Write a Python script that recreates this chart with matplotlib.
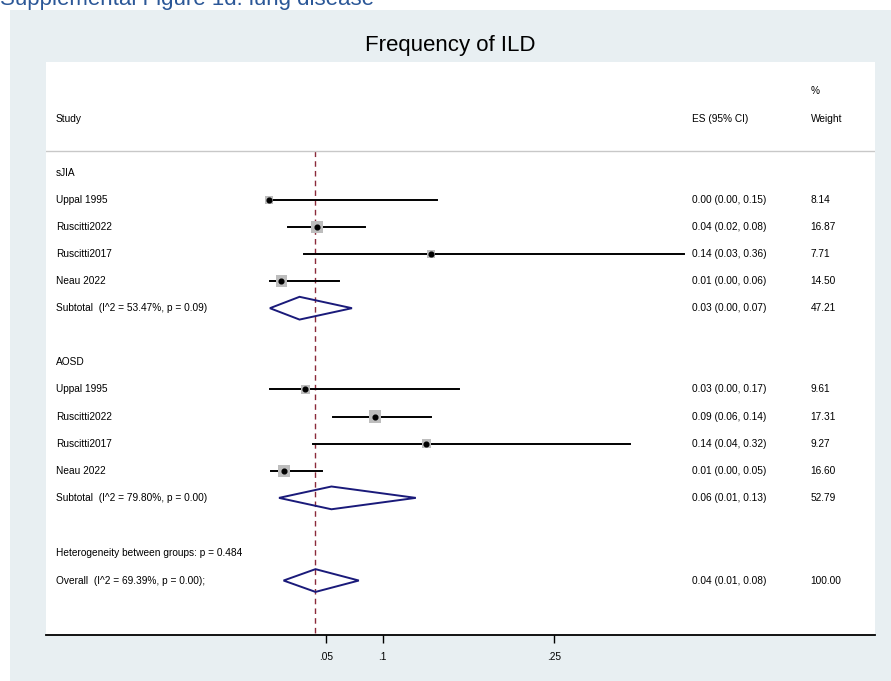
import matplotlib.pyplot as plt
from matplotlib.patches import Rectangle, Polygon

plt.rcParams['font.family'] = ['Liberation Sans', 'DejaVu Sans']

# study rows, values
sjia_names = ['Uppal 1995', 'Ruscitti2022', 'Ruscitti2017', 'Neau 2022']
sjia_es = [0.000, 0.042, 0.142, 0.011]
sjia_lo = [0.000, 0.017, 0.031, 0.001]
sjia_hi = [0.148, 0.084, 0.364, 0.062]
sjia_wt = [8.14, 16.87, 7.71, 14.50]
sjia_ci_txt = ['0.00 (0.00, 0.15)', '0.04 (0.02, 0.08)', '0.14 (0.03, 0.36)', '0.01 (0.00, 0.06)']
sjia_sub = [0.027, 0.001, 0.073]
sjia_sub_wt = 47.21
sjia_sub_txt = '0.03 (0.00, 0.07)'
sjia_sub_label = 'Subtotal  (I^2 = 53.47%, p = 0.09)'

aosd_names = ['Uppal 1995', 'Ruscitti2022', 'Ruscitti2017', 'Neau 2022']
aosd_es = [0.032, 0.093, 0.138, 0.013]
aosd_lo = [0.001, 0.056, 0.039, 0.002]
aosd_hi = [0.167, 0.142, 0.317, 0.047]
aosd_wt = [9.61, 17.31, 9.27, 16.60]
aosd_ci_txt = ['0.03 (0.00, 0.17)', '0.09 (0.06, 0.14)', '0.14 (0.04, 0.32)', '0.01 (0.00, 0.05)']
aosd_sub = [0.055, 0.009, 0.129]
aosd_sub_wt = 52.79
aosd_sub_txt = '0.06 (0.01, 0.13)'
aosd_sub_label = 'Subtotal  (I^2 = 79.80%, p = 0.00)'

overall = [0.041, 0.013, 0.079]
overall_wt = 100.00
overall_txt = '0.04 (0.01, 0.08)'
overall_label = 'Overall  (I^2 = 69.39%, p = 0.00);'
het_label = 'Heterogeneity between groups: p = 0.484'

xticks = [0.05, 0.1, 0.25]
xtick_labels = ['.05', '.1', '.25']

W, H = 891, 681
fig = plt.figure(figsize=(W / 100, H / 100), dpi=100)
fig.patch.set_facecolor('white')
bg = '#e8eff2'
fig.patches.append(Rectangle((10 / W, 0), 1 - 10 / W, (H - 10) / H,
                             transform=fig.transFigure, facecolor=bg,
                             edgecolor='none', zorder=-10))
# page caption, cut at the top edge as in the source image
fig.text(0.0, 1 - 5 / H, 'Supplemental Figure 1d: lung disease', fontsize=16,
         color='#2b5797', ha='left', va='baseline')
fig.text(450.5 / W, 1 - 46 / H, 'Frequency of ILD', fontsize=16,
         ha='center', va='center')

ax = fig.add_axes([46 / W, (H - 635) / H, (875 - 46) / W, (635 - 62) / H])
ax.set_facecolor('white')
ax.set_xlim(-0.1954, 0.5318)
ax.set_ylim(17.06, -4.085)
for s in ['top', 'left', 'right']:
    ax.spines[s].set_visible(False)
ax.spines['bottom'].set_linewidth(1.3)
ax.set_yticks([])
ax.set_xticks(xticks)
ax.set_xticklabels(xtick_labels, fontsize=7.3)
ax.tick_params(axis='x', length=6, width=1, pad=6)

x_lab = -0.1866
x_es = 0.371
x_wt = 0.4754
fs = 7.3

# header
ax.text(x_lab, -2, 'Study', fontsize=fs, va='center')
ax.text(x_es, -2, 'ES (95% CI)', fontsize=fs, va='center')
ax.text(x_wt, -3, '%', fontsize=fs, va='center')
ax.text(x_wt, -2, 'Weight', fontsize=fs, va='center')
ax.axhline(-0.81, color='#c8c8c8', lw=1)

ax.plot([overall[0], overall[0]], [-0.81, 17.06], color='#8b2a3a', lw=1,
        dashes=(4, 3), zorder=1)


def diamond(y, vals, wt, txt, label):
    es, lo, hi = vals
    ax.add_patch(Polygon([(lo, y), (es, y - 0.42), (hi, y), (es, y + 0.42)],
                         closed=True, fill=False, edgecolor='#1a1a7a', lw=1.4, zorder=3))
    ax.text(x_lab, y, label, fontsize=fs, va='center')
    ax.text(x_es, y, txt, fontsize=fs, va='center')
    ax.text(x_wt, y, f'{wt:.2f}', fontsize=fs, va='center')


def group(y0, title, names, es, lo, hi, wt, cit, sub, sub_wt, sub_txt, sub_label):
    ax.text(x_lab, y0, title, fontsize=fs, va='center')
    for i in range(len(names)):
        y = y0 + 1 + i
        ax.plot([lo[i], hi[i]], [y, y], color='black', lw=1.4, zorder=2)
        ax.scatter([es[i]], [y], s=4.5 * wt[i], marker='s', color='#bdbdbd',
                   edgecolors='none', zorder=3)
        ax.plot([es[i]], [y], 'o', color='black', markersize=3.4, zorder=4)
        ax.text(x_lab, y, names[i], fontsize=fs, va='center')
        ax.text(x_es, y, cit[i], fontsize=fs, va='center')
        ax.text(x_wt, y, f'{wt[i]:.2f}', fontsize=fs, va='center')
    diamond(y0 + 1 + len(names), sub, sub_wt, sub_txt, sub_label)


group(0, 'sJIA', sjia_names, sjia_es, sjia_lo, sjia_hi, sjia_wt, sjia_ci_txt,
      sjia_sub, sjia_sub_wt, sjia_sub_txt, sjia_sub_label)
group(7, 'AOSD', aosd_names, aosd_es, aosd_lo, aosd_hi, aosd_wt, aosd_ci_txt,
      aosd_sub, aosd_sub_wt, aosd_sub_txt, aosd_sub_label)

ax.text(x_lab, 14.05, het_label, fontsize=fs, va='center')
diamond(15.05, overall, overall_wt, overall_txt, overall_label)

fig.savefig('out.png', dpi=100, facecolor=fig.get_facecolor())
